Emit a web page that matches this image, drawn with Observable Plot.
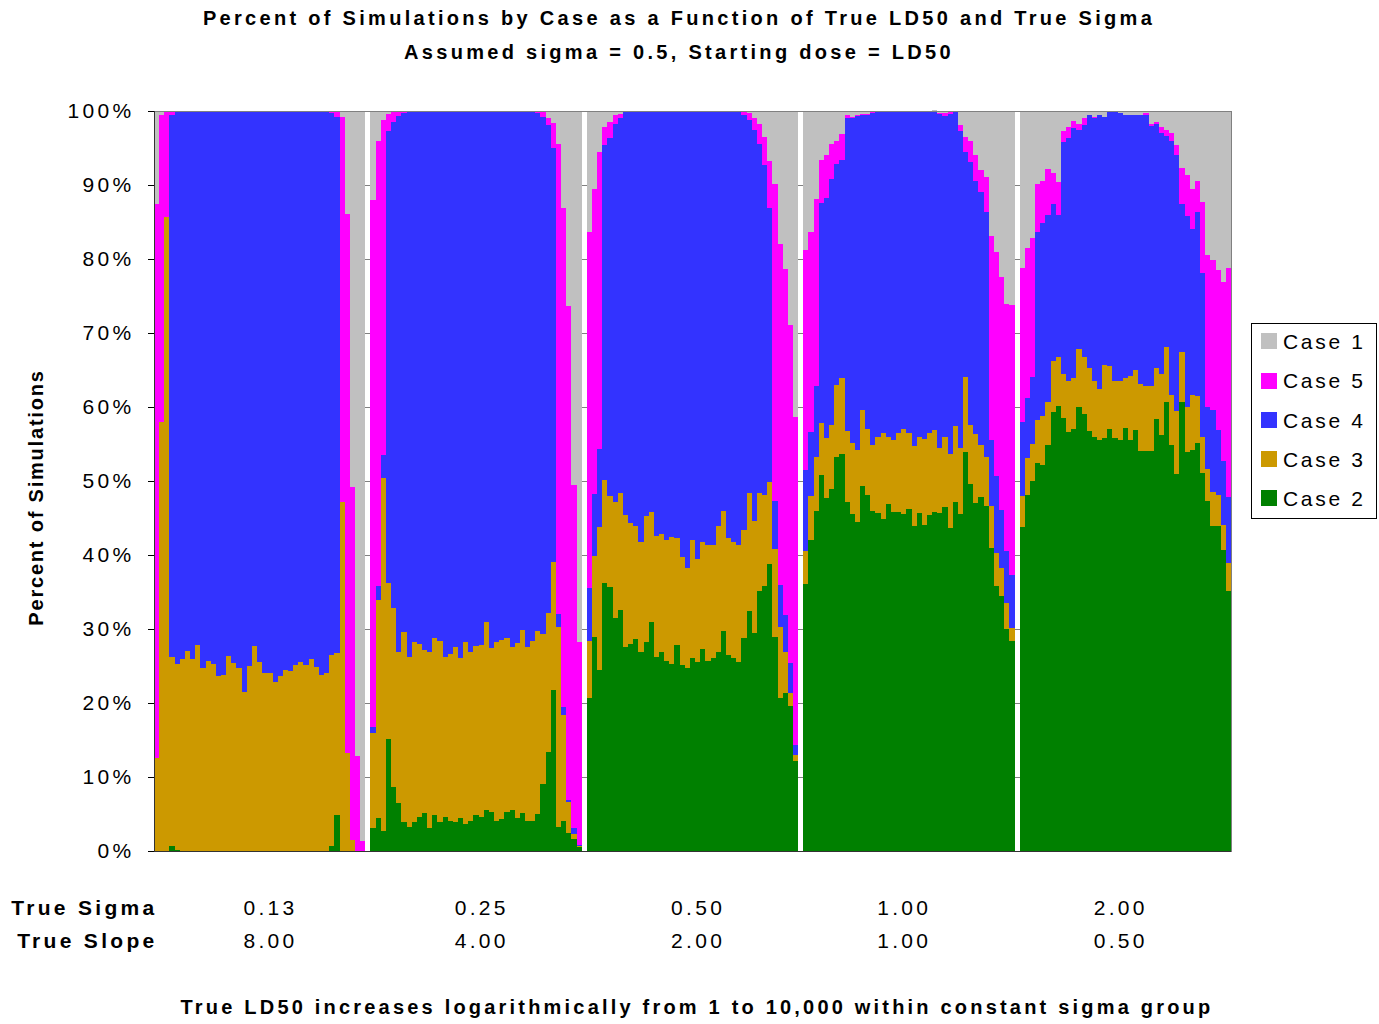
<!DOCTYPE html>
<html><head><meta charset="utf-8">
<script src="https://cdn.jsdelivr.net/npm/d3@7"></script>
<script src="https://cdn.jsdelivr.net/npm/@observablehq/plot@0.6"></script>
<style>
html,body{margin:0;background:#fff;overflow:hidden;}
#wrap{position:relative;width:1379px;height:1024px;font-family:"Liberation Sans",Arial,sans-serif;color:#000;}
.hd{position:absolute;left:0;width:1358px;text-align:center;font-weight:bold;font-size:20px;letter-spacing:3.3px;line-height:26px;white-space:nowrap;}
#caption{left:16px;width:1362px;letter-spacing:3.2px;}
#chart{position:absolute;left:0;top:90px;}
#chart svg text{letter-spacing:3.3px;}
#legend{position:absolute;left:1251px;top:323px;width:124px;height:194px;border:1px solid #000;background:#fff;}
.lg{position:absolute;left:9px;height:26px;line-height:26px;font-size:21px;letter-spacing:2.7px;white-space:nowrap;}
.sw{display:inline-block;width:16px;height:16px;vertical-align:middle;margin-right:6px;position:relative;top:-2px;}
</style></head>
<body>
<div id="wrap">
  <div class="hd" style="top:5px">Percent of Simulations by Case as a Function of True LD50 and True Sigma</div>
  <div class="hd" style="top:39px">Assumed sigma = 0.5, Starting dose = LD50</div>
  <div id="chart"></div>
  <div id="legend"></div>
  <div class="hd" id="caption" style="top:994px">True LD50 increases logarithmically from 1 to 10,000 within constant sigma group</div>
</div>
<script>
// ---------------- data ----------------
const groupSigma = ["0.13", "0.25", "0.50", "1.00", "2.00"];
const groupSlope = ["8.00", "4.00", "2.00", "1.00", "0.50"];
const legendCases = ["Case 1", "Case 5", "Case 4", "Case 3", "Case 2"];
const legendColors = ["#C0C0C0", "#FF00FF", "#3333FF", "#CC9900", "#008000"];
const yTicks = [0, 10, 20, 30, 40, 50, 60, 70, 80, 90, 100];

// Values, per sigma group (41 LD50 steps each).
// c2 = % Case 2; c23 = % Case 2+3; c234 = % Case 2+3+4; c2345 = % Case 2+3+4+5 (Case 1 = rest)
const s013_c2 = [0,0,0,0.7,0.2, 0,0,0,0,0, 0,0,0,0,0, 0,0,0,0,0, 0,0,0,0,0, 0,0,0,0,0, 0,0,0,0,0.7, 4.8,0,0,0,0, 0];
const s013_c23 = [12.6,58.0,85.7,26.2,25.3, 25.9,27.0,26.0,27.9,24.7, 25.7,25.3,23.6,23.8,26.4, 25.4,24.7,21.5,25.0,27.7, 25.6,24.1,24.1,22.8,23.6, 24.5,24.3,25.1,25.6,25.1, 25.9,24.9,23.8,24.0,26.5, 26.8,47.1,13.2,1.5,0, 0];
const s013_c234 = [12.6,58.0,85.7,99.5,99.8, 99.9,100,100,100,100, 100,100,100,100,100, 100,100,100,100,100, 100,100,100,100,100, 100,100,100,100,100, 100,100,100,100,99.7, 99.2,47.1,13.2,1.5,0, 0];
const s013_c2345 = [87.5,99.5,99.8,100,100, 100,100,100,100,100, 100,100,100,100,100, 100,100,100,100,100, 100,100,100,100,100, 100,100,100,100,100, 100,100,100,100,100, 100,99.2,86.1,49.2,12.9, 1.4];

const s025_c2 = [3.1,4.4,2.7,15.2,8.7, 6.5,3.9,3.3,3.9,4.6, 5.2,3.1,4.8,3.9,4.6, 4.1,3.9,4.4,3.7,4.1, 4.9,4.6,5.6,5.3,4.1, 4.3,5.3,5.6,4.5,5.2, 4.1,4.1,5.0,9.0,13.4, 21.8,3.3,4.1,2.5,1.6, 0.5];
const s025_c23 = [15.9,33.9,50.4,36.2,32.9, 26.9,29.6,26.2,28.3,28.0, 27.2,26.9,28.8,28.4,26.2, 26.6,27.6,26.1,28.3,26.9, 27.7,27.9,31.0,27.4,28.3, 28.5,28.8,27.6,28.1,29.8, 27.6,28.4,29.7,29.3,32.1, 39.1,30.3,18.4,6.6,2.3, 0.7];
const s025_c234 = [16.7,35.8,53.5,97.3,98.5, 99.3,99.7,100,100,100, 100,100,100,100,100, 100,100,100,100,100, 100,100,100,100,100, 100,100,100,100,100, 99.9,99.9,99.7,99.2,98.1, 95.0,32.0,19.5,6.9,3.1, 0.8];
const s025_c2345 = [88.0,95.9,98.8,99.6,99.8, 100,100,100,100,100, 100,100,100,100,100, 100,100,100,100,100, 100,100,100,100,100, 100,100,100,100,100, 100,100,99.9,99.8,99.0, 98.4,95.6,86.9,73.7,49.4, 28.3];

const s050_c2 = [20.7,28.9,24.5,36.2,35.7, 31.5,32.6,27.6,28.0,28.7, 26.9,28.3,31.0,26.2,26.9, 25.7,25.3,27.9,25.1,24.7, 26.1,25.5,27.3,25.7,26.1, 26.9,29.7,26.5,26.1,25.6, 28.8,32.5,29.5,35.1,35.8, 38.8,28.9,20.7,21.3,19.6, 12.1];
const s050_c23 = [28.4,39.9,43.8,50.1,48.0, 47.1,48.4,45.4,44.3,43.9, 41.7,45.3,45.8,42.6,42.8, 42.0,42.5,42.3,39.7,38.3, 42.0,39.5,41.8,41.4,41.4, 43.9,45.9,42.3,41.8,41.4, 43.4,48.4,44.6,48.4,48.1, 49.9,40.8,30.3,26.9,21.3, 13.0];
const s050_c234 = [35.5,48.2,54.3,95.4,96.4, 98.2,99.1,99.8,100,100, 100,100,100,100,100, 100,100,100,100,100, 100,100,100,100,100, 100,100,100,100,99.8, 99.5,98.8,97.5,95.5,92.7, 86.9,47.3,36.0,31.9,25.4, 14.3];
const s050_c2345 = [83.6,89.4,94.4,97.8,98.5, 99.5,99.6,99.8,100,100, 100,100,100,100,100, 100,100,100,100,100, 100,100,100,100,100, 100,100,100,100,100, 99.8,99.7,99.0,98.2,96.5, 93.3,90.2,82.0,78.7,71.1, 58.6];

const s100_c2 = [36.1,42.0,46.0,50.8,47.7, 48.9,53.3,53.6,47.2,45.6, 44.4,49.3,48.1,45.9,45.7, 44.8,46.9,45.8,45.8,45.5, 46.2,43.9,45.7,44.0,45.4, 45.8,45.7,46.5,43.7,47.2, 45.6,53.9,49.6,47.0,47.8, 46.6,40.9,35.8,34.4,30.0, 28.4];
const s100_c23 = [40.5,48.0,53.3,57.8,55.8, 57.6,63.0,63.9,56.7,55.2, 54.2,59.6,57.0,54.9,56.0, 56.5,55.9,55.6,56.5,57.0, 56.5,54.7,56.0,55.7,56.5, 56.9,54.5,56.0,53.7,57.5, 54.5,64.1,57.6,56.4,54.9, 53.2,46.6,40.3,38.3,33.5, 30.2];
const s100_c234 = [51.5,56.6,62.9,87.6,88.3, 90.8,92.9,93.4,99.1,99.0, 99.3,99.5,99.5,99.7,99.8, 100,100,100,100,100, 100,100,100,100,100, 100,99.6,99.3,99.6,99.8, 97.3,94.5,93.1,90.5,89.1, 86.3,55.6,50.7,46.1,40.6, 37.3];
const s100_c2345 = [81.2,83.6,88.1,93.4,94.1, 95.5,96.0,96.9,99.4,99.2, 99.4,99.6,99.6,99.8,100, 100,100,100,100,100, 100,100,100,100,100, 99.8,99.7,99.7,99.8,100, 98.1,96.5,95.9,94.0,92.0, 91.1,83.1,80.9,77.6,73.9, 73.8];

const s200_c2 = [43.8,48.1,50.0,52.4,52.2, 54.8,59.3,60.1,58.5,56.6, 57.0,60.0,59.0,56.8,55.9, 55.6,55.8,57.0,55.8,55.5, 57.2,55.5,56.9,54.0,54.0, 54.0,58.4,56.2,60.7,54.9, 50.9,60.7,53.9,54.2,55.1, 51.1,47.3,43.9,43.9,40.7, 35.1];
const s200_c23 = [48.0,53.1,55.0,58.2,58.8, 60.7,66.2,66.7,64.4,63.5, 63.9,67.8,66.7,65.3,63.5, 62.4,65.7,65.5,63.5,63.5, 63.9,64.2,65.0,63.1,62.8, 62.8,65.3,64.4,68.1,61.6, 59.5,67.4,60.0,61.6,61.5, 55.9,51.6,48.5,48.1,44.1, 38.9];
const s200_c234 = [58.0,61.2,64.0,83.6,84.8, 85.9,87.4,85.9,95.8,96.4, 97.7,97.5,98.1,99.5,99.0, 99.4,99.2,99.8,100,99.7, 99.5,99.5,99.4,99.5,99.4, 98.0,98.2,97.0,96.6,96.0, 94.0,87.4,85.8,84.0,86.3, 78.1,60.0,59.6,56.9,52.7, 47.8];
const s200_c2345 = [78.8,81.5,82.9,90.2,90.5, 92.1,91.6,90.4,97.3,97.9, 98.7,98.2,99.0,99.5,99.2, 99.5,99.2,99.8,100,99.7, 99.5,99.5,99.5,99.5,99.7, 98.3,98.5,97.9,97.5,97.0, 95.4,92.3,91.3,89.4,90.6, 87.7,80.6,79.8,78.5,76.9, 78.8];

// ---------------- table for Plot ----------------
const groups = [
  [s013_c2, s013_c23, s013_c234, s013_c2345],
  [s025_c2, s025_c23, s025_c234, s025_c2345],
  [s050_c2, s050_c23, s050_c234, s050_c2345],
  [s100_c2, s100_c23, s100_c234, s100_c2345],
  [s200_c2, s200_c23, s200_c234, s200_c2345]
];
const nBars = s013_c2.length;
const slotsPerGroup = nBars + 1;           // one empty slot separates groups
const totalSlots = groups.length * slotsPerGroup - 1;
const stackOrder = ["Case 2", "Case 3", "Case 4", "Case 5", "Case 1"];
const rows = [];
groups.forEach(([a, b, c, d], g) => {
  for (let i = 0; i < nBars; i++) {
    const slot = g * slotsPerGroup + i;
    const bounds = [0, a[i], b[i], c[i], d[i], 100];
    stackOrder.forEach((name, k) => {
      rows.push({slot, case: name, value: Math.max(0, bounds[k + 1] - bounds[k])});
    });
  }
});
const labelSlots = [22, 63, 105, 145, 187];

const chart = Plot.plot({
  width: 1379,
  height: 880,
  marginLeft: 154,
  marginRight: 148,
  marginTop: 21,
  marginBottom: 119,
  style: {fontFamily: '"Liberation Sans", Arial, sans-serif', fontSize: "21px", color: "#000", background: "transparent", overflow: "visible"},
  x: {type: "band", domain: d3.range(totalSlots), padding: 0},
  y: {domain: [0, 100]},
  color: {domain: legendCases, range: legendColors},
  marks: [
    Plot.gridY(yTicks.filter(d => d > 0 && d < 100), {stroke: "#808080", strokeOpacity: 1}),
    Plot.barY(rows, {x: "slot", y: "value", fill: "case", order: stackOrder, shapeRendering: "crispEdges"}),
    Plot.frame({stroke: "#808080"}),
    Plot.frame({anchor: "left", stroke: "#333"}),
    Plot.ruleY([0], {stroke: "#333"}),
    Plot.axisY({ticks: yTicks, tickFormat: d => d + "%", tickSize: 6, tickPadding: 14, label: null, color: "#000", fontSize: 21}),
    Plot.axisX({ticks: labelSlots, tickFormat: s => groupSigma[labelSlots.indexOf(s)], tickSize: 0, tickPadding: 49, label: null, color: "#000", fontSize: 21}),
    Plot.axisX({ticks: labelSlots, tickFormat: s => groupSlope[labelSlots.indexOf(s)], tickSize: 0, tickPadding: 82, label: null, color: "#000", fontSize: 21}),
    Plot.text(["True Sigma"], {text: d => d, frameAnchor: "bottom-left", textAnchor: "end", lineAnchor: "middle", dx: 3, dy: 57, fontWeight: "bold", fontSize: 21}),
    Plot.text(["True Slope"], {text: d => d, frameAnchor: "bottom-left", textAnchor: "end", lineAnchor: "middle", dx: 3, dy: 90, fontWeight: "bold", fontSize: 21}),
    Plot.text(["Percent of Simulations"], {text: d => d, frameAnchor: "left", textAnchor: "middle", lineAnchor: "middle", rotate: -90, dx: -118, dy: 16, fontWeight: "bold", fontSize: 20})
  ]
});
document.getElementById("chart").appendChild(chart);
d3.select(chart).selectAll("text").filter(function () { return this.textContent === "Percent of Simulations"; })
  .style("letter-spacing", "1.8px");

// ---------------- legend ----------------
const legend = document.getElementById("legend");
legendCases.forEach((name, i) => {
  const row = document.createElement("div");
  row.className = "lg";
  row.style.top = (5 + i * 39.25) + "px";
  const sw = document.createElement("span");
  sw.className = "sw";
  sw.style.background = legendColors[i];
  row.appendChild(sw);
  row.appendChild(document.createTextNode(name));
  legend.appendChild(row);
});
</script>
</body></html>
